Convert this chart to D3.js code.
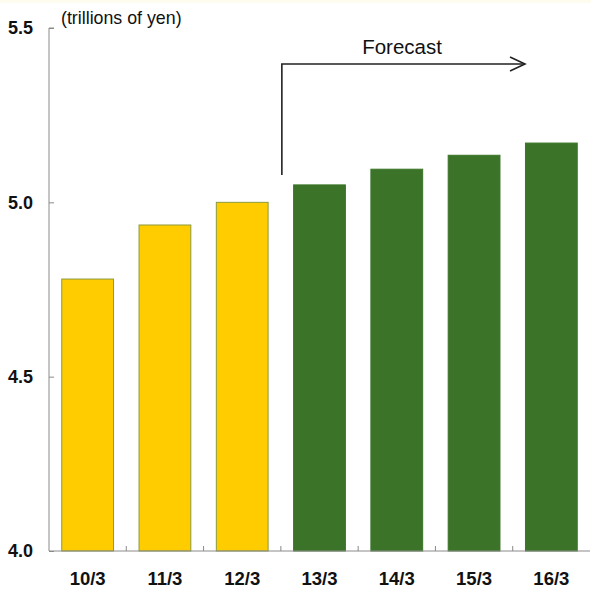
<!DOCTYPE html>
<html>
<head>
<meta charset="utf-8">
<script src="https://cdn.jsdelivr.net/npm/d3@7"></script>
<style>
  html, body { margin: 0; padding: 0; background: #ffffff; }
  svg { display: block; font-family: Arial, "Liberation Sans", sans-serif; }
</style>
</head>
<body>
<script>
// Fiscal years (March year-end) and values in trillions of yen
const categories = ["10/3", "11/3", "12/3", "13/3", "14/3", "15/3", "16/3"];
const values = [4.78, 4.935, 5.0, 5.05, 5.095, 5.135, 5.17];
const isForecast = [false, false, false, true, true, true, true];
const yTicks = [4.0, 4.5, 5.0, 5.5];
const unitLabel = "(trillions of yen)";
const forecastLabel = "Forecast";

const W = 591, H = 594;
const margin = { left: 49, right: 1, top: 28, bottom: 43 };

const svg = d3.select("body").append("svg")
  .attr("width", W).attr("height", H);

// faint warm strip along the top edge
svg.append("rect").attr("x", 0).attr("y", 0).attr("width", W).attr("height", 3)
  .attr("fill", "#fdfcee");

const x = d3.scaleBand()
  .domain(categories)
  .range([margin.left, W - margin.right])
  .paddingInner(0.33)
  .paddingOuter(0.165);

const y = d3.scaleLinear()
  .domain([4.0, 5.5])
  .range([H - margin.bottom, margin.top]);

// bars
svg.append("g").selectAll("rect")
  .data(categories)
  .join("rect")
  .attr("x", d => x(d))
  .attr("width", x.bandwidth())
  .attr("y", (d, i) => y(values[i]))
  .attr("height", (d, i) => y(4.0) - y(values[i]))
  .attr("fill", (d, i) => isForecast[i] ? "#3b7428" : "#ffcc00")
  .attr("stroke", (d, i) => isForecast[i] ? "#3b7428" : "#8c9a3c")
  .attr("stroke-width", 1);

// y axis
const yAxis = svg.append("g")
  .attr("transform", `translate(${margin.left},0)`)
  .call(d3.axisRight(y).tickValues(yTicks).tickSize(5).tickFormat(""));
yAxis.select(".domain").attr("stroke", "#8a8a8a").attr("d", `M5,${y(5.5)}H0V${y(4.0)}`);
yAxis.selectAll(".tick line").attr("stroke", "#8a8a8a");

svg.append("g").selectAll("text")
  .data(yTicks)
  .join("text")
  .attr("x", 33)
  .attr("y", d => y(d))
  .attr("dy", "0.36em")
  .attr("text-anchor", "end")
  .attr("font-size", 18)
  .attr("font-weight", "bold")
  .attr("fill", "#111")
  .text(d => d.toFixed(1));

// x axis: baseline with small upward ticks between categories
const xAxisG = svg.append("g").attr("transform", `translate(0,${y(4.0)})`);
xAxisG.append("line")
  .attr("x1", margin.left).attr("x2", W - margin.right)
  .attr("stroke", "#8a8a8a");
const step = x.step();
const dividers = categories.slice(1).map(c => x(c) - (step - x.bandwidth()) / 2);
xAxisG.selectAll("line.div")
  .data(dividers)
  .join("line")
  .attr("class", "div")
  .attr("x1", d => d).attr("x2", d => d)
  .attr("y1", 0).attr("y2", -5)
  .attr("stroke", "#8a8a8a");

svg.append("g").selectAll("text")
  .data(categories)
  .join("text")
  .attr("x", d => x(d) + x.bandwidth() / 2)
  .attr("y", 585)
  .attr("text-anchor", "middle")
  .attr("font-size", 18.5)
  .attr("font-weight", "bold")
  .attr("fill", "#111")
  .text(d => d);

// unit label
svg.append("text")
  .attr("x", 61).attr("y", 24)
  .attr("font-size", 17.8)
  .attr("fill", "#111")
  .text(unitLabel);

// forecast bracket arrow
const firstF = categories[isForecast.indexOf(true)];
const arrowX0 = x(firstF) - (step - x.bandwidth()) / 2 + 1;
const arrowY = 64;
const arrowX1 = 525;
svg.append("path")
  .attr("d", `M${arrowX0},${y(values[isForecast.indexOf(true)]) - 10}V${arrowY}H${arrowX1}`)
  .attr("fill", "none").attr("stroke", "#222").attr("stroke-width", 1.6);
svg.append("path")
  .attr("d", `M${arrowX1 - 15},${arrowY - 7}L${arrowX1},${arrowY}L${arrowX1 - 15},${arrowY + 7}`)
  .attr("fill", "none").attr("stroke", "#222").attr("stroke-width", 1.6);
svg.append("text")
  .attr("x", 402).attr("y", 54)
  .attr("text-anchor", "middle")
  .attr("font-size", 20.5)
  .attr("fill", "#111")
  .text(forecastLabel);
</script>
</body>
</html>
